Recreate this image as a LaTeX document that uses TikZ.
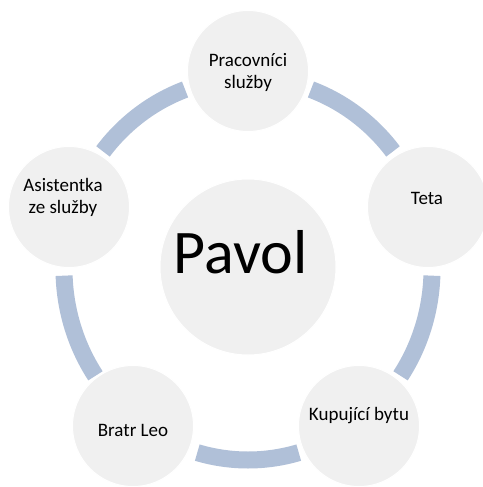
\documentclass[tikz,border=0pt]{standalone}
\usepackage{fontspec}
\setmainfont{Carlito}
\usetikzlibrary{calc}
\definecolor{ringblue}{RGB}{176,192,216}
\definecolor{circgray}{RGB}{240,240,240}
\begin{document}
\begin{tikzpicture}[x=1pt,y=-1pt,
  ring/.style={draw=ringblue,line width=17pt,line cap=butt},
  outer/.style={circle,fill=circgray,draw=white,line width=1pt,minimum size=121pt,inner sep=0pt},
  inner/.style={circle,fill=circgray,draw=white,line width=1pt,minimum size=176pt,inner sep=0pt},
  lbl/.style={align=center,font=\fontsize{19}{22}\selectfont,inner sep=0pt},
  big/.style={font=\fontsize{62}{70}\selectfont,inner sep=0pt}]
\path[use as bounding box,fill=white] (0,0) rectangle (482,487);
\coordinate (c) at (248,269);
% ring segments
\foreach \a/\b in {142/110, 70/38, -2/-34, -74/-106, -146/-178}{
  \draw[ring] ($(c)+(\a:184pt and 191pt)$) arc[start angle=\a,end angle=\b,x radius=184pt,y radius=191pt];
}
% circles
\node[inner] (center) at (248,267) {};
\node[outer] (top) at (248,71) {};
\node[outer] (right) at (428,207) {};
\node[outer] (bright) at (359,426) {};
\node[outer] (bleft) at (133,426) {};
\node[outer] (left) at (69,207) {};
% texts
\node[big] (tcenter) at (240.5,252) {Pavol};
\node[lbl] (ttop) at (248,72) {Pracovníci\\služby};
\node[lbl] (tright) at (427,198) {Teta};
\node[lbl] (tbright) at (359,416) {Kupující bytu};
\node[lbl] (tbleft) at (133,430) {Bratr Leo};
\node[lbl] (tleft) at (63,197) {Asistentka\\ze služby};
\end{tikzpicture}
\end{document}
